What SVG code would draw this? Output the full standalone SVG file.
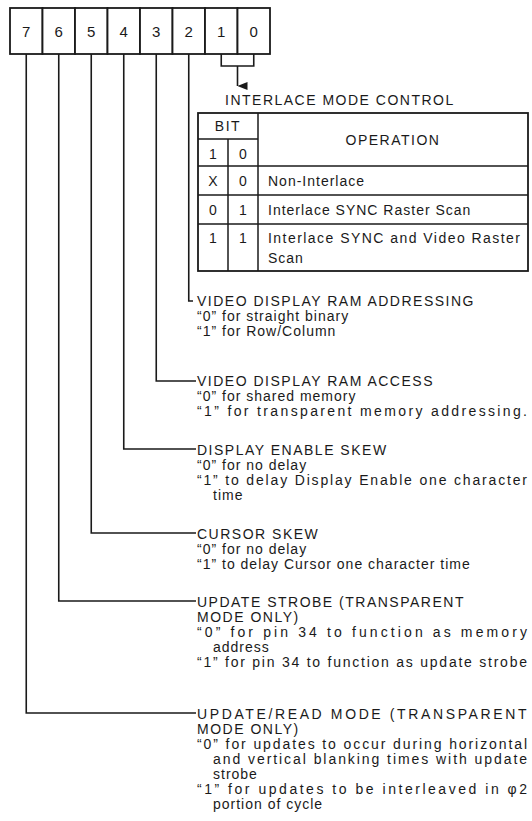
<svg xmlns="http://www.w3.org/2000/svg" width="532" height="821" viewBox="0 0 532 821">
<defs>
<style>
text{font-family:"Liberation Sans",Arial,sans-serif;fill:#1a1a1a;font-size:14px;}
.b{letter-spacing:1px}
.h{letter-spacing:1.5px}
.d{font-size:15px;text-anchor:middle}
.c{text-anchor:middle}
.ln{fill:none;stroke:#1a1a1a;stroke-width:1.6}
.cell{fill:#fff;stroke:#1a1a1a;stroke-width:1.8}
.tb{fill:none;stroke:#1a1a1a;stroke-width:1.8}
.tl{stroke:#1a1a1a;stroke-width:1.5}
</style>
<marker id="ah" viewBox="0 0 8 10" refX="4" refY="10" markerWidth="8" markerHeight="10" markerUnits="userSpaceOnUse" orient="auto-start-reverse">
<path d="M0,0 L8,0 L4,10 Z" fill="#1a1a1a"/>
</marker>
</defs>
<rect width="532" height="821" fill="#fff"/>

<g id="register">
<g id="bit7"><rect class="cell" x="10" y="8" width="32.5" height="46"/><text class="d" x="26.25" y="37">7</text></g>
<g id="bit6"><rect class="cell" x="42.5" y="8" width="32.5" height="46"/><text class="d" x="58.75" y="37">6</text></g>
<g id="bit5"><rect class="cell" x="75" y="8" width="32.5" height="46"/><text class="d" x="91.25" y="37">5</text></g>
<g id="bit4"><rect class="cell" x="107.5" y="8" width="32.5" height="46"/><text class="d" x="123.75" y="37">4</text></g>
<g id="bit3"><rect class="cell" x="140" y="8" width="32.5" height="46"/><text class="d" x="156.25" y="37">3</text></g>
<g id="bit2"><rect class="cell" x="172.5" y="8" width="32.5" height="46"/><text class="d" x="188.75" y="37">2</text></g>
<g id="bit1"><rect class="cell" x="205" y="8" width="32.5" height="46"/><text class="d" x="221.25" y="37">1</text></g>
<g id="bit0"><rect class="cell" x="237.5" y="8" width="32.5" height="46"/><text class="d" x="253.75" y="37">0</text></g>
</g>

<g id="connectors">
<path class="ln" d="M221.25,54 V66 H253.75 V54"/>
<path class="ln" d="M237.5,66 V86" marker-end="url(#ah)"/>
<path class="ln" d="M188.75,54 V301 H193"/>
<path class="ln" d="M156.25,54 V381 H196"/>
<path class="ln" d="M123.75,54 V449 H196"/>
<path class="ln" d="M91.25,54 V533 H196"/>
<path class="ln" d="M58.75,54 V601 H196"/>
<path class="ln" d="M26.25,54 V713 H196"/>
</g>

<g id="interlace-table">
<text class="h" x="225" y="105">INTERLACE MODE CONTROL</text>
<rect class="tb" x="198" y="113" width="330" height="158"/>
<line class="tl" x1="228" y1="139" x2="228" y2="271"/>
<line class="tl" x1="258" y1="113" x2="258" y2="271"/>
<line class="tl" x1="198" y1="139" x2="258" y2="139"/>
<line class="tl" x1="198" y1="166" x2="528" y2="166"/>
<line class="tl" x1="198" y1="195" x2="528" y2="195"/>
<line class="tl" x1="198" y1="224" x2="528" y2="224"/>
<text class="c h" x="228" y="131">BIT</text>
<text class="c h" x="393" y="145">OPERATION</text>
<text class="c" x="213" y="159">1</text>
<text class="c" x="243" y="159">0</text>
<text class="c" x="213" y="186">X</text>
<text class="c" x="243" y="186">0</text>
<text class="b" x="268" y="186">Non-Interlace</text>
<text class="c" x="213" y="215">0</text>
<text class="c" x="243" y="215">1</text>
<text class="b" x="268" y="215">Interlace SYNC Raster Scan</text>
<text class="c" x="213" y="243">1</text>
<text class="c" x="243" y="243">1</text>
<text class="b" x="268" y="243" textLength="253" lengthAdjust="spacing">Interlace SYNC and Video Raster</text>
<text class="b" x="268" y="263">Scan</text>
</g>

<g id="bit2-desc">
<text class="h" x="197" y="306">VIDEO DISPLAY RAM ADDRESSING</text>
<text class="b" x="197" y="321">“0” for straight binary</text>
<text class="b" x="197" y="336">“1” for Row/Column</text>
</g>

<g id="bit3-desc">
<text class="h" x="197" y="386">VIDEO DISPLAY RAM ACCESS</text>
<text class="b" x="197" y="401">“0” for shared memory</text>
<text class="b" x="197" y="416" textLength="331" lengthAdjust="spacing">“1” for transparent memory addressing.</text>
</g>

<g id="bit4-desc">
<text class="h" x="197" y="455">DISPLAY ENABLE SKEW</text>
<text class="b" x="197" y="470">“0” for no delay</text>
<text class="b" x="197" y="485" textLength="331" lengthAdjust="spacing">“1” to delay Display Enable one character</text>
<text class="b" x="213" y="500">time</text>
</g>

<g id="bit5-desc">
<text class="h" x="197" y="539">CURSOR SKEW</text>
<text class="b" x="197" y="554">“0” for no delay</text>
<text class="b" x="197" y="569">“1” to delay Cursor one character time</text>
</g>

<g id="bit6-desc">
<text class="h" x="197" y="607">UPDATE STROBE (TRANSPARENT</text>
<text class="h" x="197" y="622">MODE ONLY)</text>
<text class="b" x="197" y="637" textLength="331" lengthAdjust="spacing">“0” for pin 34 to function as memory</text>
<text class="b" x="213" y="652">address</text>
<text class="b" x="197" y="667" textLength="331" lengthAdjust="spacing">“1” for pin 34 to function as update strobe</text>
</g>

<g id="bit7-desc">
<text class="h" x="197" y="719" textLength="331" lengthAdjust="spacing">UPDATE/READ MODE (TRANSPARENT</text>
<text class="h" x="197" y="734">MODE ONLY)</text>
<text class="b" x="197" y="749" textLength="331" lengthAdjust="spacing">“0” for updates to occur during horizontal</text>
<text class="b" x="213" y="764" textLength="315" lengthAdjust="spacing">and vertical blanking times with update</text>
<text class="b" x="213" y="779">strobe</text>
<text class="b" x="197" y="794" textLength="331" lengthAdjust="spacing">“1” for updates to be interleaved in φ2</text>
<text class="b" x="213" y="809">portion of cycle</text>
</g>
</svg>
